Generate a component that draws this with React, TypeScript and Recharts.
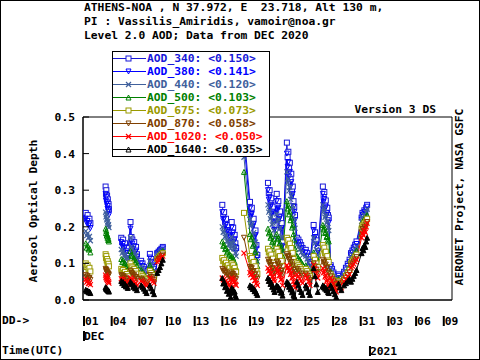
import React from "react";
import { ComposedChart, Line, XAxis, YAxis, ReferenceArea } from "recharts";

const _ = null;

// days since 01 DEC 2020 00:00 UTC; a null row breaks the lines between gaps
const days = [
  0.3, 0.4, 0.5, 0.6, 0.7, 0.8,
  1.5,
  2.45, 2.49, 2.53, 2.57, 2.61, 2.65, 2.69, 2.73, 2.77, 2.81,
  3.5,
  4.15, 4.25, 4.35, 4.45, 4.55, 4.65, 4.75, 4.85,
  5.15, 5.25, 5.35, 5.45, 5.55, 5.65, 5.75, 5.85,
  6.3, 6.45, 6.6, 6.75, 6.9,
  7.25, 7.4, 7.55, 7.7,
  8.05, 8.2, 8.35, 8.5, 8.65,
  12,
  15.1, 15.2, 15.3, 15.4, 15.5, 15.6, 15.7, 15.8, 15.9, 16.0,
  16.12, 16.2, 16.28, 16.36, 16.44, 16.52, 16.6,
  17,
  17.45, 18.1, 18.2, 18.3, 18.4, 18.5, 18.6, 18.7, 18.8, 18.9,
  19.5,
  20.05, 20.14, 20.23, 20.32, 20.41, 20.5, 20.59, 20.68, 20.77,
  21.0, 21.09, 21.18, 21.27, 21.36, 21.45, 21.54, 21.63,
  22.1, 22.18, 22.26, 22.34, 22.42, 22.5, 22.58, 22.66, 22.74, 22.82, 22.9, 22.98,
  23.2, 23.35, 23.5, 23.65, 23.8,
  24.15, 24.3, 24.45, 24.6,
  25.0, 25.15, 25.3, 25.45,
  26.0, 26.08, 26.16, 26.24, 26.32, 26.4, 26.48, 26.56, 26.64,
  26.85, 27.0, 27.15, 27.3, 27.45,
  27.7, 27.85, 28.0, 28.3, 28.5, 28.7, 28.9,
  29.05, 29.2, 29.35, 29.5, 29.65,
  30.2, 30.3, 30.4, 30.5, 30.6, 30.7, 30.8,
];

const aod340 = [
  .238, .225, .232, .218, .222, .21,
  _,
  .31, .29, .3, .28, .285, .268, .275, .258, .262, .248,
  _,
  .17, .158, .165, .148, .155, .138, .142, .128,
  .213, .172, .165, .15, .158, .14, .145, .125,
  .107, .1, .09, .08, .07,
  .126, .112, .1, .09,
  .128, .132, .136, .14, .145,
  _,
  .26, .235, .24, .215, .222, .2, .205, .185, .19, .17,
  .213, .19, .198, .172, .178, .155, .142,
  _,
  .46, .268, .245, .252, .215, .222, .185, .19, .15, .123,
  _,
  .32, .292, .3, .27, .278, .25, .255, .228, .205,
  .29, .262, .27, .235, .242, .205, .21, .158,
  .43, .39, .405, .36, .375, .33, .345, .3, .31, .27, .255, .232,
  .17, .165, .158, .15, .142,
  .137, .128, .118, .104,
  .205, .185, .163, .142,
  .31, .285, .295, .265, .272, .245, .252, .232, .225,
  .095, .085, .075, .062, .05,
  .07, .06, .052, .077, .088, .099, .11,
  .128, .135, .143, .151, .16,
  .225, .238, .232, .245, .24, .252, .26,
];

const aod380 = [
  .222, .21, .216, .203, .207, .196,
  _,
  .29, .272, .281, .263, .267, .25, .257, .241, .245, .232,
  _,
  .158, .147, .153, .138, .144, .129, .133, .12,
  .195, .16, .154, .14, .147, .131, .135, .117,
  .1, .093, .084, .075, .066,
  .116, .104, .094, .085,
  .125, .129, .133, .137, .141,
  _,
  .24, .218, .222, .2, .206, .186, .19, .172, .176, .158,
  .198, .177, .184, .16, .166, .145, .133,
  _,
  .43, .25, .228, .235, .2, .207, .173, .177, .14, .116,
  _,
  .3, .274, .281, .253, .26, .234, .239, .214, .192,
  .27, .245, .252, .22, .226, .192, .196, .148,
  .4, .364, .377, .337, .35, .31, .322, .282, .29, .254, .24, .218,
  .16, .155, .148, .14, .132,
  .13, .121, .111, .098,
  .19, .172, .152, .133,
  .29, .268, .276, .249, .255, .231, .237, .218, .211,
  .09, .08, .07, .058, .047,
  .066, .057, .05, .072, .083, .093, .104,
  .122, .129, .137, .145, .153,
  .22, .232, .227, .24, .235, .247, .255,
];

const aod440 = [
  .188, .176, .182, .17, .174, .162,
  _,
  .24, .227, .234, .219, .223, .21, .215, .203, .206, .198,
  _,
  .138, .128, .133, .12, .125, .112, .116, .105,
  .17, .145, .14, .127, .133, .118, .122, .108,
  .092, .086, .078, .07, .062,
  .106, .096, .087, .079,
  .122, .126, .13, .134, .138,
  _,
  .2, .185, .188, .172, .176, .16, .163, .15, .153, .14,
  .172, .155, .16, .14, .145, .128, .12,
  _,
  .39, .22, .202, .208, .178, .184, .155, .158, .126, .105,
  _,
  .26, .24, .245, .222, .228, .206, .21, .19, .17,
  .235, .214, .22, .193, .198, .17, .174, .133,
  .35, .32, .331, .298, .308, .275, .285, .25, .258, .228, .215, .196,
  .15, .145, .138, .13, .122,
  .12, .112, .103, .092,
  .17, .155, .138, .122,
  .26, .242, .249, .226, .231, .21, .215, .198, .19,
  .085, .076, .066, .055, .044,
  .062, .054, .047, .068, .078, .088, .098,
  .116, .123, .13, .138, .146,
  .215, .226, .221, .233, .228, .24, .248,
];

const aod500 = [
  .155, .143, .149, .138, .141, .13,
  _,
  .195, .183, .189, .176, .18, .17, .174, .164, .167, .16,
  _,
  .112, .104, .108, .097, .101, .09, .093, .084,
  .134, .124, .12, .109, .114, .102, .105, .095,
  .082, .077, .071, .065, .06,
  .095, .087, .079, .072,
  .118, .122, .126, .13, .134,
  _,
  .16, .148, .151, .139, .142, .13, .133, .122, .125, .115,
  .12, .11, .114, .1, .104, .092, .087,
  _,
  .35, .18, .166, .171, .148, .152, .13, .132, .108, .093,
  _,
  .195, .182, .186, .17, .174, .158, .162, .148, .14,
  .18, .166, .17, .152, .156, .138, .141, .12,
  .27, .25, .258, .234, .242, .218, .225, .198, .204, .18, .165, .14,
  .12, .115, .11, .104, .098,
  .095, .088, .08, .07,
  .13, .119, .107, .096,
  .205, .193, .198, .183, .186, .172, .175, .165, .16,
  .077, .068, .06, .05, .04,
  .057, .05, .044, .063, .072, .081, .09,
  .108, .114, .121, .128, .135,
  .205, .215, .211, .221, .217, .227, .232,
];

const aod675 = [
  .1, .09, .095, .085, .088, .078,
  _,
  .125, .115, .12, .108, .112, .102, .106, .096, .099, .092,
  _,
  .085, .079, .082, .074, .077, .069, .071, .065,
  .1, .092, .089, .082, .085, .077, .079, .072,
  .07, .066, .061, .057, .053,
  .08, .074, .068, .062,
  .112, .116, .12, .124, .128,
  _,
  .115, .106, .109, .099, .102, .093, .095, .086, .088, .078,
  .1, .092, .095, .085, .088, .079, .076,
  _,
  .238, .12, .112, .115, .101, .104, .09, .092, .079, .072,
  _,
  .14, .13, .133, .12, .124, .11, .113, .102, .095,
  .14, .129, .132, .117, .12, .105, .107, .092,
  .17, .16, .164, .149, .154, .138, .142, .125, .129, .112, .104, .095,
  .1, .095, .09, .085, .08,
  .085, .079, .072, .065,
  .12, .11, .1, .09,
  .15, .139, .143, .128, .132, .117, .12, .108, .104,
  .07, .062, .055, .047, .038,
  .052, .046, .04, .058, .066, .074, .082,
  .1, .106, .112, .118, .124,
  .195, .204, .2, .21, .206, .216, .222,
];

const aod870 = [
  .068, .062, .065, .058, .06, .055,
  _,
  .085, .079, .082, .075, .077, .072, .074, .07, .071, .068,
  _,
  .068, .064, .066, .06, .062, .057, .058, .053,
  .08, .074, .072, .066, .068, .062, .063, .058,
  .058, .055, .051, .048, .045,
  .068, .063, .058, .054,
  .108, .112, .116, .12, .124,
  _,
  .085, .079, .081, .074, .076, .069, .07, .064, .065, .058,
  .075, .069, .071, .064, .066, .059, .057,
  _,
  .17, .09, .085, .087, .077, .079, .069, .07, .062, .057,
  _,
  .11, .101, .104, .093, .096, .085, .087, .078, .072,
  .105, .097, .1, .088, .091, .079, .081, .07,
  .125, .117, .12, .109, .113, .1, .104, .091, .094, .082, .076, .07,
  .085, .08, .075, .07, .065,
  .072, .067, .061, .055,
  .1, .092, .083, .075,
  .11, .102, .105, .094, .097, .086, .088, .078, .073,
  .065, .058, .051, .043, .035,
  .048, .042, .037, .054, .061, .068, .075,
  .094, .1, .105, .111, .117,
  .185, .194, .19, .2, .196, .206, .213,
];

const aod1020 = [
  .056, .049, .052, .045, .047, .042,
  _,
  .068, .061, .064, .057, .059, .053, .055, .049, .051, .046,
  _,
  .058, .053, .056, .049, .051, .046, .047, .042,
  .06, .056, .054, .048, .05, .045, .046, .04,
  .052, .049, .045, .042, .039,
  .06, .055, .05, .046,
  .104, .108, .112, .116, .12,
  _,
  .06, .055, .057, .05, .052, .046, .047, .041, .042, .033,
  .06, .053, .056, .048, .05, .043, .04,
  _,
  .128, .075, .069, .071, .061, .063, .053, .054, .045, .04,
  _,
  .087, .079, .082, .071, .074, .063, .065, .056, .05,
  .087, .077, .08, .066, .069, .055, .057, .04,
  .095, .087, .09, .079, .083, .07, .074, .06, .063, .05, .043, .033,
  .07, .064, .058, .052, .046,
  .068, .06, .05, .04,
  .096, .084, .072, .06,
  .087, .075, .079, .063, .067, .051, .055, .04, .033,
  .06, .052, .043, .032, .022,
  .045, .038, .033, .05, .057, .064, .07,
  .088, .093, .098, .104, .11,
  .17, .182, .177, .19, .185, .2, .21,
];

const aod1640 = [
  .028, .024, .026, .021, .023, .019,
  _,
  .035, .031, .033, .029, .03, .027, .028, .025, .026, .023,
  _,
  .052, .046, .049, .041, .044, .037, .038, .033,
  .05, .045, .043, .036, .039, .032, .033, .027,
  .04, .036, .031, .025, .019,
  .04, .032, .024, .016,
  .074, .082, .09, .1, .11,
  _,
  .06, .045, .05, .035, .038, .025, .028, .017, .02, .008,
  .033, .026, .029, .02, .023, .012, .008,
  _,
  _, .04, .035, .037, .03, .032, .024, .025, .019, .014,
  _,
  .06, .052, .055, .044, .047, .036, .038, .029, .022,
  .04, .034, .036, .027, .029, .02, .021, .012,
  .05, .043, .046, .036, .039, .029, .032, .021, .024, .014, .01, .005,
  .05, .04, .03, .022, .014,
  .04, .032, .022, .014,
  .087, .065, .043, .022,
  .04, .035, .037, .031, .033, .027, .028, .022, .019,
  .04, .032, .024, .016, .008,
  .045, .035, .027, .04, .046, .052, .058,
  .05, .058, .066, .074, .082,
  .128, .142, .136, .15, .145, .16, .17,
];

const series = [
  { key: "a340", name: "AOD_340", mean: "0.150", color: "#1818d8", shape: "square", values: aod340 },
  { key: "a380", name: "AOD_380", mean: "0.141", color: "#0000ff", shape: "down", values: aod380 },
  { key: "a440", name: "AOD_440", mean: "0.120", color: "#40609c", shape: "x", values: aod440 },
  { key: "a500", name: "AOD_500", mean: "0.103", color: "#008000", shape: "up", values: aod500 },
  { key: "a675", name: "AOD_675", mean: "0.073", color: "#9a9a00", shape: "square", values: aod675 },
  { key: "a870", name: "AOD_870", mean: "0.058", color: "#804000", shape: "down", values: aod870 },
  { key: "a1020", name: "AOD_1020", mean: "0.050", color: "#ff0000", shape: "x", values: aod1020 },
  { key: "a1640", name: "AOD_1640", mean: "0.035", color: "#000000", shape: "upFilled", values: aod1640 },
];

const xTicks = [0, 3, 6, 9, 12, 15, 18, 21, 24, 27, 30, 33, 36, 39, 31];
const xTickLabels: Record<number, string> = {
  0: "01", 3: "04", 6: "07", 9: "10", 12: "13", 15: "16", 18: "19",
  21: "22", 24: "25", 27: "28", 30: "31", 33: "03", 36: "06", 39: "09",
};
const monthTick = 0;
const monthLabel = "DEC";
const yearTick = 31;
const yearLabel = "2021";
const yTicks = [0, 0.1, 0.2, 0.3, 0.4, 0.5];

const titleLines = [
  "ATHENS-NOA , N 37.972, E  23.718, Alt 130 m,",
  "PI : Vassilis_Amiridis, vamoir@noa.gr",
  "Level 2.0 AOD; Data from DEC 2020",
];

const data = days.map((d, i) => {
  const row: Record<string, number | null> = { day: d };
  series.forEach((s) => {
    row[s.key] = s.values[i] ?? null;
  });
  return row;
});

const badLengths = series.filter((s) => s.values.length !== days.length).map((s) => `${s.name}:${s.values.length}`);

const FONT = "'DejaVu Sans Mono', 'Liberation Mono', monospace";
const FS = 11.3;

function MarkerShape({ cx, cy, shape, color }: { cx: number; cy: number; shape: string; color: string }) {
  const r = 2.5;
  switch (shape) {
    case "square":
      return <rect x={cx - r} y={cy - r} width={r * 2} height={r * 2} fill="#fff" stroke={color} strokeWidth={1} />;
    case "down":
      return <path d={`M${cx - r},${cy - r} L${cx + r},${cy - r} L${cx},${cy + r} Z`} fill="none" stroke={color} strokeWidth={1} />;
    case "up":
      return <path d={`M${cx - r},${cy + r} L${cx + r},${cy + r} L${cx},${cy - r} Z`} fill="none" stroke={color} strokeWidth={1} />;
    case "upFilled":
      return <path d={`M${cx - r},${cy + r} L${cx + r},${cy + r} L${cx},${cy - r} Z`} fill={color} stroke={color} strokeWidth={1} />;
    default:
      return (
        <path d={`M${cx - r},${cy - r} L${cx + r},${cy + r} M${cx - r},${cy + r} L${cx + r},${cy - r}`} stroke={color} strokeWidth={1.2} />
      );
  }
}

function XTick(props: any) {
  const { x, y, payload } = props;
  const v = payload.value;
  const text = { fontFamily: FONT, fontSize: FS, fontWeight: 700, fill: "#000" };
  if (v === yearTick) {
    return (
      <g>
        <rect x={x} y={y + 46} width={2} height={10} fill="#000" />
        <text x={x + 1} y={y + 55} {...text}>{yearLabel}</text>
      </g>
    );
  }
  return (
    <g>
      <rect x={x} y={y + 16} width={2} height={10} fill="#000" />
      <text x={x + 2} y={y + 25} {...text}>{xTickLabels[v]}</text>
      {v === monthTick && (
        <>
          <rect x={x} y={y + 31} width={2} height={10} fill="#000" />
          <text x={x + 1} y={y + 40} {...text}>{monthLabel}</text>
        </>
      )}
    </g>
  );
}

function YTick(props: any) {
  const { x, y, payload } = props;
  return (
    <g>
      <line x1={x} x2={x + 6} y1={y} y2={y} stroke="#000" />
      <text x={x - 8} y={y + 4} textAnchor="end" fontFamily={FONT} fontSize={FS} fontWeight={700} fill="#000">
        {Number(payload.value).toFixed(1)}
      </text>
    </g>
  );
}

const txt: React.CSSProperties = {
  position: "absolute",
  fontFamily: FONT,
  fontSize: FS,
  fontWeight: 700,
  lineHeight: "14px",
  whiteSpace: "nowrap",
  color: "#000",
};

function LegendBox() {
  return (
    <div
      style={{
        position: "absolute",
        left: 112,
        top: 51,
        width: 158,
        height: 106,
        boxSizing: "border-box",
        border: "1px solid #000",
        background: "#fff",
      }}
    >
      {series.map((s) => (
        <div key={s.key} style={{ display: "flex", alignItems: "center", height: 13 }}>
          <svg width={34} height={13} style={{ display: "block" }}>
            <line x1={0} x2={33} y1={6.5} y2={6.5} stroke={s.color} />
            <MarkerShape cx={15.5} cy={6.5} shape={s.shape === "upFilled" ? "up" : s.shape} color={s.color} />
          </svg>
          <span style={{ fontFamily: FONT, fontSize: FS, fontWeight: 700, color: s.color, whiteSpace: "pre", lineHeight: "13px" }}>
            {`${s.name}: <${s.mean}>`}
          </span>
        </div>
      ))}
    </div>
  );
}

export default function App() {
  return (
    <div style={{ position: "fixed", left: 0, top: 0, width: 480, height: 360, background: "#fff", overflow: "hidden" }}>
      <ComposedChart width={480} height={360} data={data} margin={{ top: 117, right: 28, bottom: 0, left: 0 }}>
        <XAxis
          type="number"
          dataKey="day"
          domain={[0, 40]}
          ticks={xTicks}
          interval={0}
          tick={<XTick />}
          tickLine={false}
          tickSize={0}
          tickMargin={0}
          height={60}
          axisLine={{ stroke: "#000" }}
          allowDataOverflow
        />
        <YAxis
          type="number"
          domain={[0, 0.5]}
          ticks={yTicks}
          interval={0}
          tick={<YTick />}
          tickLine={false}
          tickSize={0}
          tickMargin={0}
          width={83}
          axisLine={{ stroke: "#000" }}
          allowDataOverflow
        />
        <ReferenceArea x1={0} x2={40} y1={0} y2={0.5} fill="none" stroke="#000" strokeWidth={1} ifOverflow="visible" />
        {series.map((s) => (
          <Line
            key={s.key}
            dataKey={s.key}
            type="linear"
            stroke={s.color}
            strokeWidth={1}
            connectNulls={false}
            isAnimationActive={false}
            activeDot={false}
            dot={(p: any) =>
              p.cx == null || p.cy == null || p.value == null ? (
                <g key={`${s.key}-${p.index}`} />
              ) : (
                <g key={`${s.key}-${p.index}`}>
                  <MarkerShape cx={p.cx} cy={p.cy} shape={s.shape} color={s.color} />
                </g>
              )
            }
          />
        ))}
      </ComposedChart>

      <LegendBox />

      <div style={{ ...txt, left: 84, top: 1 }}>
        {titleLines.map((l) => (
          <div key={l} style={{ whiteSpace: "pre" }}>{l}</div>
        ))}
      </div>
      <div style={{ ...txt, right: 44, top: 103 }}>Version 3 DS</div>
      <div style={{ ...txt, left: 460, top: 197, transform: "translate(-50%, -50%) rotate(-90deg)" }}>
        AERONET Project, NASA GSFC
      </div>
      <div style={{ ...txt, left: 34, top: 211, transform: "translate(-50%, -50%) rotate(-90deg)" }}>
        Aerosol Optical Depth
      </div>
      <div style={{ ...txt, left: 2, top: 314 }}>DD-&gt;</div>
      <div style={{ ...txt, left: 2, top: 344 }}>Time(UTC)</div>
      {badLengths.length > 0 && <div style={{ ...txt, left: 100, top: 170, color: "red" }}>{badLengths.join(" ")}</div>}
      <div
        style={{
          position: "absolute",
          left: 0,
          top: 0,
          width: 480,
          height: 360,
          boxSizing: "border-box",
          border: "1px solid #000",
          pointerEvents: "none",
        }}
      />
    </div>
  );
}
